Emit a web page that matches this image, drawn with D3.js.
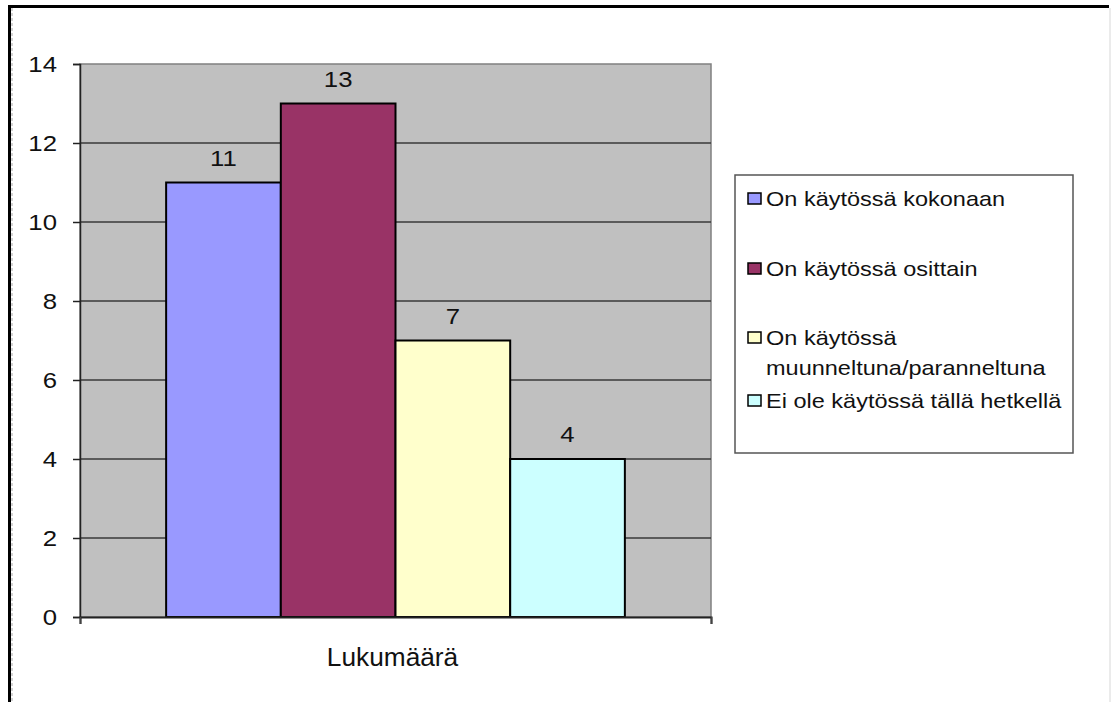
<!DOCTYPE html>
<html>
<head>
<meta charset="utf-8">
<script src="https://cdn.jsdelivr.net/npm/d3@7"></script>
<style>
  body { margin: 0; background: #fff; }
  svg { display: block; font-family: "Liberation Sans", Arial, sans-serif; }
</style>
</head>
<body>
<svg id="chart" width="1111" height="702"></svg>
<script>
var categories = ["Lukumäärä"],
    series = ["On käytössä kokonaan", "On käytössä osittain", "On käytössä muunneltuna/paranneltuna", "Ei ole käytössä tällä hetkellä"],
    legendLines = [["On käytössä kokonaan"], ["On käytössä osittain"], ["On käytössä", "muunneltuna/paranneltuna"], ["Ei ole käytössä tällä hetkellä"]],
    values = [11, 13, 7, 4],
    colors = ["#9999ff", "#993366", "#ffffcc", "#ccffff"],
    yTicks = [0, 2, 4, 6, 8, 10, 12, 14];

var svg = d3.select("#chart"),
    margin = {top: 64, right: 400, bottom: 85, left: 80},
    width = +svg.attr("width") - margin.left - margin.right,
    height = +svg.attr("height") - margin.top - margin.bottom,
    g = svg.append("g").attr("transform", "translate(" + margin.left + "," + margin.top + ")");

// the source picture is a little stretched sideways, so text gets the same stretch
var stretch = 1.12;

// outer frame
svg.append("line").attr("x1", 8).attr("x2", 1109).attr("y1", 6.5).attr("y2", 6.5)
    .attr("stroke", "#000").attr("stroke-width", 3);
svg.append("line").attr("x1", 9.5).attr("x2", 9.5).attr("y1", 5).attr("y2", 702)
    .attr("stroke", "#000").attr("stroke-width", 3);
svg.append("line").attr("x1", 12).attr("x2", 12).attr("y1", 8).attr("y2", 702)
    .attr("stroke", "#aaa").attr("stroke-width", 1).attr("stroke-dasharray", "3,2");
svg.append("line").attr("x1", 1110).attr("x2", 1110).attr("y1", 8).attr("y2", 702)
    .attr("stroke", "#e4e4e4").attr("stroke-width", 1.5);

var x0 = d3.scaleBand()
    .domain(categories)
    .range([0, width])
    .paddingInner(0.273)
    .paddingOuter(0.1365);

var x1 = d3.scaleBand()
    .domain(series)
    .range([0, x0.bandwidth()]);

var y = d3.scaleLinear()
    .domain([0, 14])
    .range([height, 0]);

// plot area
g.append("rect")
    .attr("width", width)
    .attr("height", height)
    .attr("fill", "#c0c0c0")
    .attr("stroke", "#808080")
    .attr("stroke-width", 1.5);

// gridlines
g.append("g")
  .selectAll("line")
  .data(yTicks.filter(function(d) { return d > 0 && d < 14; }))
  .enter().append("line")
    .attr("x1", 0).attr("x2", width)
    .attr("y1", function(d) { return y(d); })
    .attr("y2", function(d) { return y(d); })
    .attr("stroke", "#3a3a3a")
    .attr("stroke-width", 1.5);

// bars
var bars = g.append("g")
  .selectAll("g")
  .data(categories)
  .enter().append("g")
    .attr("transform", function(d) { return "translate(" + x0(d) + ",0)"; });

bars.selectAll("rect")
  .data(series.map(function(s, i) { return {s: s, v: values[i], c: colors[i]}; }))
  .enter().append("rect")
    .attr("x", function(d) { return x1(d.s); })
    .attr("y", function(d) { return y(d.v); })
    .attr("width", x1.bandwidth())
    .attr("height", function(d) { return height - y(d.v); })
    .attr("fill", function(d) { return d.c; })
    .attr("stroke", "#000")
    .attr("stroke-width", 2);

bars.selectAll("text")
  .data(series.map(function(s, i) { return {s: s, v: values[i]}; }))
  .enter().append("text")
    .attr("transform", function(d) {
      return "translate(" + (x1(d.s) + x1.bandwidth() / 2) + "," + (y(d.v) - 17) + ") scale(" + stretch + ",1)";
    })
    .attr("text-anchor", "middle")
    .attr("font-size", 23)
    .attr("fill", "#111")
    .text(function(d) { return d.v; });

// axes
var yAxis = g.append("g")
    .call(d3.axisLeft(y).tickValues(yTicks).tickSize(7).tickPadding(16));
yAxis.select(".domain").attr("stroke", "#222").attr("stroke-width", 1.5);
yAxis.selectAll(".tick line").attr("stroke", "#222").attr("stroke-width", 1.5);
yAxis.selectAll("text")
    .attr("x", 0)
    .attr("transform", "translate(-23,0) scale(" + stretch + ",1)")
    .attr("font-size", 23).attr("fill", "#111")
    .attr("font-family", "Liberation Sans, Arial, sans-serif");

var xAxis = g.append("g")
    .attr("transform", "translate(0," + height + ")")
    .call(d3.axisBottom(d3.scaleLinear().domain([0, 1]).range([0, width])).tickValues([0, 1]).tickFormat("").tickSize(7));
xAxis.select(".domain").attr("stroke", "#222").attr("stroke-width", 2);
xAxis.selectAll(".tick line").attr("stroke", "#444").attr("stroke-width", 1.5);

g.append("text")
    .attr("transform", "translate(" + (x0(categories[0]) + x0.bandwidth() / 2 - 3) + "," + (height + 49) + ") scale(1.05,1)")
    .attr("text-anchor", "middle")
    .attr("font-size", 25)
    .attr("fill", "#111")
    .text(categories[0]);

// legend
var legend = svg.append("g").attr("transform", "translate(735,175)");
legend.append("rect")
    .attr("width", 338)
    .attr("height", 278)
    .attr("fill", "#fff")
    .attr("stroke", "#555")
    .attr("stroke-width", 1.5);

var rowY = [23, 93, 162, 225];
var item = legend.selectAll(".item")
  .data(legendLines)
  .enter().append("g")
    .attr("class", "item")
    .attr("transform", function(d, i) { return "translate(0," + rowY[i] + ")"; });

item.append("rect")
    .attr("x", 13).attr("y", -5)
    .attr("width", 13).attr("height", 11)
    .attr("fill", function(d, i) { return colors[i]; })
    .attr("stroke", "#000")
    .attr("stroke-width", 1.5);

item.append("text")
    .attr("transform", "translate(31,7.5) scale(" + stretch + ",1)")
    .attr("font-size", 21)
    .attr("fill", "#111")
  .selectAll("tspan")
  .data(function(d) { return d; })
  .enter().append("tspan")
    .attr("x", 0)
    .attr("dy", function(d, i) { return i ? 31 : 0; })
    .text(function(d) { return d; });
</script>
</body>
</html>
